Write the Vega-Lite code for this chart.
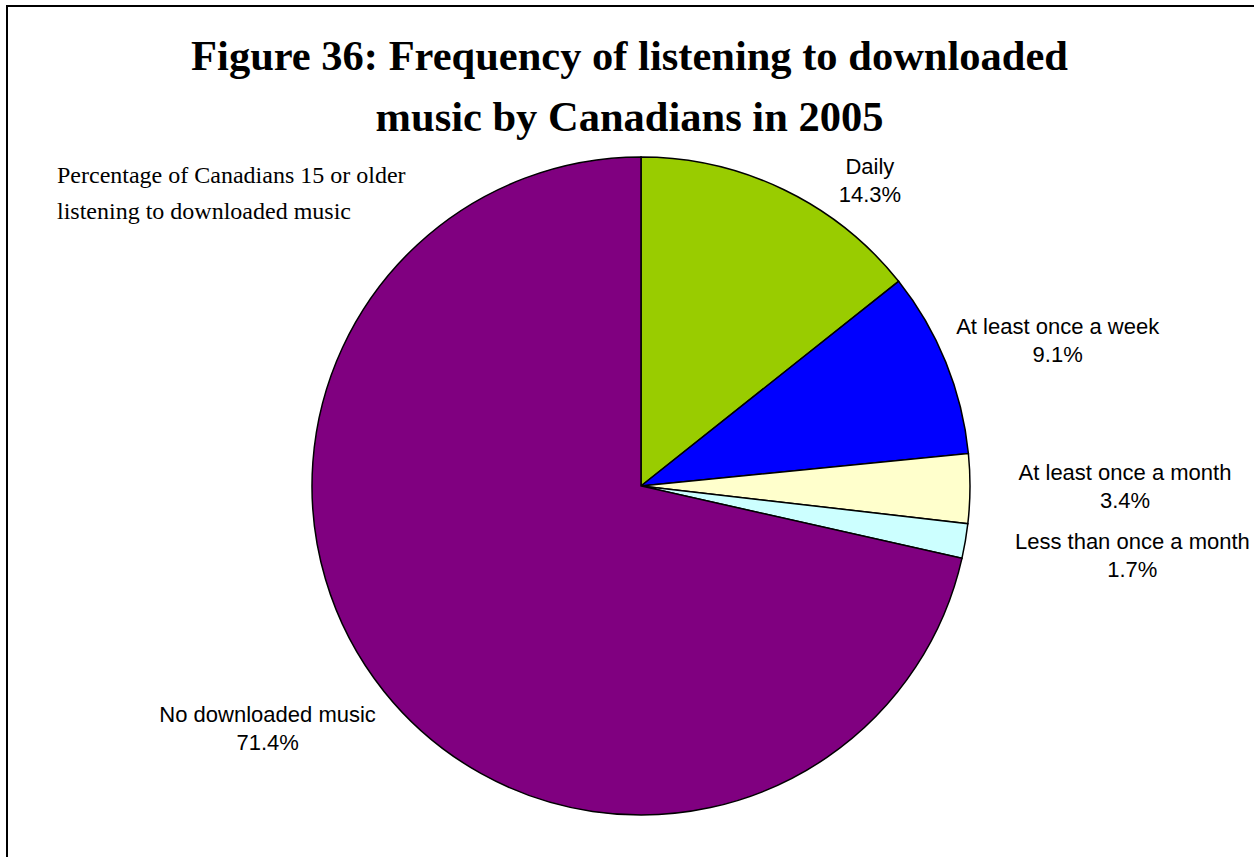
{
  "$schema": "https://vega.github.io/schema/vega-lite/v6.json",
  "width": 1268,
  "height": 960,
  "autosize": {"type": "none"},
  "padding": {"left": 7, "top": 6, "right": 0, "bottom": 0},
  "background": "white",
  "config": {"view": {"stroke": null}},
  "title": {
    "text": ["Figure 36: Frequency of listening to downloaded", "music by Canadians in 2005"],
    "subtitle": ["Percentage of Canadians 15 or older", "listening to downloaded music"],
    "anchor": "middle",
    "frame": "group",
    "orient": "top",
    "offset": -219,
    "font": "Liberation Serif",
    "fontSize": 42.5,
    "fontWeight": "bold",
    "color": "black",
    "lineHeight": 61,
    "dx": -11.5,
    "subtitleFont": "Liberation Serif",
    "subtitleFontSize": 24,
    "subtitleColor": "black",
    "subtitleLineHeight": 36,
    "subtitlePadding": 25,
    "encode": {"subtitle": {"update": {"align": {"value": "left"}, "dx": {"value": -584}}}}
  },
  "data": {
    "values": [
      {"category": "Daily", "pct": 14.3, "rank": 1, "label": "Daily\n14.3%"},
      {"category": "At least once a week", "pct": 9.1, "rank": 2, "label": "At least once a week\n9.1%"},
      {"category": "At least once a month", "pct": 3.4, "rank": 3, "label": "At least once a month\n3.4%"},
      {"category": "Less than once a month", "pct": 1.7, "rank": 4, "label": "Less than once a month\n1.7%"},
      {"category": "No downloaded music", "pct": 71.4, "rank": 5, "label": "No downloaded music\n71.4%"}
    ]
  },
  "layer": [
    {
      "data": {"values": [{"frame": "border"}]},
      "mark": {"type": "rect", "fill": null, "fillOpacity": 0, "stroke": "black", "strokeWidth": 2},
      "encoding": {}
    },
    {
      "mark": {"type": "arc", "outerRadius": 329, "stroke": "black", "strokeWidth": 1.5},
      "encoding": {
        "theta": {"field": "pct", "type": "quantitative", "stack": true},
        "order": {"field": "rank", "type": "quantitative"},
        "color": {
          "field": "category",
          "type": "nominal",
          "scale": {
            "domain": ["Daily", "At least once a week", "At least once a month", "Less than once a month", "No downloaded music"],
            "range": ["#99CC00", "#0000FF", "#FFFFCC", "#CCFFFF", "#800080"]
          },
          "legend": null
        }
      }
    },
    {
      "mark": {
        "type": "text",
        "radius": 400,
        "font": "Liberation Sans",
        "fontSize": 22,
        "lineBreak": "\n",
        "lineHeight": 28,
        "align": "center",
        "baseline": "alphabetic",
        "color": "black",
        "dx": {"expr": "datum.category === 'Daily' ? 55 : datum.category === 'At least once a week' ? 46 : datum.category === 'At least once a month' ? 84 : datum.category === 'Less than once a month' ? 97 : -61"},
        "dy": {"expr": "datum.category === 'Daily' ? 48 : datum.category === 'At least once a week' ? -2 : datum.category === 'At least once a month' ? -9 : datum.category === 'Less than once a month' ? -4 : -14"}
      },
      "encoding": {
        "theta": {"field": "pct", "type": "quantitative", "stack": true},
        "order": {"field": "rank", "type": "quantitative"},
        "detail": {"field": "category", "type": "nominal"},
        "text": {"field": "label", "type": "nominal"}
      }
    }
  ]
}
